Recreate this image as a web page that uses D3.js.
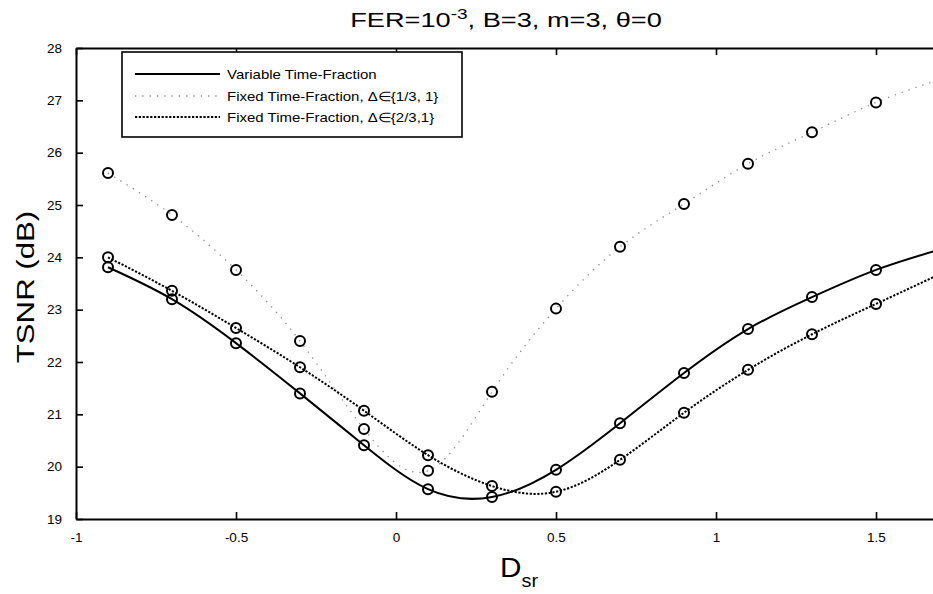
<!DOCTYPE html>
<html>
<head>
<meta charset="utf-8">
<script src="https://cdn.jsdelivr.net/npm/d3@7"></script>
<style>
  html, body { margin: 0; padding: 0; background: #fff; }
  svg { display: block; font-family: "Liberation Sans", Arial, sans-serif; }
</style>
</head>
<body>
<svg id="chart" width="933" height="594"></svg>
<script>
// ---- data ----
const dsr = [-0.9, -0.7, -0.5, -0.3, -0.1, 0.1, 0.3, 0.5, 0.7, 0.9, 1.1, 1.3, 1.5, 1.7];
const variableTF = [23.81, 23.20, 22.36, 21.40, 20.41, 19.57, 19.42, 19.94, 20.83, 21.79, 22.63, 23.24, 23.76, 24.15];
const fixed13 = [25.61, 24.81, 23.76, 22.40, 20.72, 19.92, 21.43, 23.02, 24.20, 25.02, 25.79, 26.39, 26.96, 27.40];
const fixed23 = [24.00, 23.36, 22.65, 21.90, 21.07, 20.22, 19.63, 19.52, 20.13, 21.03, 21.85, 22.53, 23.11, 23.68];
const xTicks = [-1, -0.5, 0, 0.5, 1, 1.5];
const xTickLabels = ["-1", "-0.5", "0", "0.5", "1", "1.5"];
const yTicks = [19, 20, 21, 22, 23, 24, 25, 26, 27, 28];
const legendLabels = [
  "Variable Time-Fraction",
  "Fixed Time-Fraction, \u0394\u2208{1/3, 1}",
  "Fixed Time-Fraction, \u0394\u2208{2/3,1}"
];

// ---- layout ----
const svg = d3.select("#chart");
const x = d3.scaleLinear().domain([-1, 1.7]).range([76, 940]);
const y = d3.scaleLinear().domain([19, 28]).range([519, 48]);

const series = [
  { values: variableTF, stroke: "#000", width: 2, dash: null },
  { values: fixed13, stroke: "#8a8a8a", width: 1.3, dash: "1.3,6" },
  { values: fixed23, stroke: "#000", width: 2, dash: "2.2,1.6" }
];

// curves
const line = d3.line().x(d => x(d[0])).y(d => y(d[1])).curve(d3.curveNatural);
series.forEach(s => {
  const pts = dsr.map((v, i) => [v, s.values[i]]);
  svg.append("path")
    .attr("d", line(pts))
    .attr("fill", "none")
    .attr("stroke", s.stroke)
    .attr("stroke-width", s.width)
    .attr("stroke-dasharray", s.dash);
});

// markers
series.forEach(s => {
  svg.append("g").selectAll("circle")
    .data(dsr.map((v, i) => [v, s.values[i]]))
    .join("circle")
    .attr("cx", d => x(d[0]))
    .attr("cy", d => y(d[1]))
    .attr("r", 5)
    .attr("fill", "none")
    .attr("stroke", "#000")
    .attr("stroke-width", 2);
});

// axes
const tickLen = 7;
const axB = svg.append("g").attr("transform", `translate(0,${y(19)})`)
  .call(d3.axisBottom(x).tickValues(xTicks).tickFormat((d, i) => xTickLabels[i]).tickSizeInner(-tickLen).tickSizeOuter(0).tickPadding(13));
const axT = svg.append("g").attr("transform", `translate(0,${y(28)})`)
  .call(d3.axisTop(x).tickValues(xTicks).tickFormat("").tickSizeInner(-tickLen).tickSizeOuter(0));
const axL = svg.append("g").attr("transform", `translate(${x(-1)},0)`)
  .call(d3.axisLeft(y).tickValues(yTicks).tickFormat(d3.format("d")).tickSizeInner(-tickLen).tickSizeOuter(0).tickPadding(14));
const axR = svg.append("g").attr("transform", `translate(${x(1.7)},0)`)
  .call(d3.axisRight(y).tickValues(yTicks).tickFormat("").tickSizeInner(-tickLen).tickSizeOuter(0));
[axB, axT, axL, axR].forEach(a => {
  a.select(".domain").attr("stroke", "#000").attr("stroke-width", 2);
  a.selectAll(".tick line").attr("stroke", "#000").attr("stroke-width", 1.6);
  a.selectAll(".tick text").attr("fill", "#000").style("font-size", "13.5px")
    .style("font-family", "'Liberation Sans', Arial, sans-serif");
});

// title (horizontally stretched like the scanned original)
const title = svg.append("text")
  .attr("transform", "translate(506,27) scale(1.36,1)")
  .attr("text-anchor", "middle")
  .style("font-size", "20px").attr("fill", "#000");
title.append("tspan").text("FER=10");
title.append("tspan").attr("dy", -8).style("font-size", "14px").text("-3");
title.append("tspan").attr("dy", 8).text(", B=3, m=3, \u03b8=0");

// y label
svg.append("text")
  .attr("transform", `translate(34,287) rotate(-90) scale(1.3,1)`)
  .attr("text-anchor", "middle")
  .style("font-size", "24px").attr("fill", "#000")
  .text("TSNR (dB)");

// x label
const xl = svg.append("text")
  .attr("transform", "translate(519,577) scale(1.1,1)")
  .attr("text-anchor", "middle")
  .style("font-size", "27px").attr("fill", "#000");
xl.append("tspan").text("D");
xl.append("tspan").attr("dy", 10).style("font-size", "18px").text("sr");

// legend
const lg = svg.append("g");
lg.append("rect")
  .attr("x", 122).attr("y", 52).attr("width", 340).attr("height", 85)
  .attr("fill", "#fff").attr("stroke", "#000").attr("stroke-width", 1.6);
const rowsY = [74, 96, 117];
series.forEach((s, i) => {
  lg.append("line")
    .attr("x1", 135).attr("x2", 220)
    .attr("y1", rowsY[i]).attr("y2", rowsY[i])
    .attr("stroke", s.stroke).attr("stroke-width", s.width)
    .attr("stroke-dasharray", s.dash);
  lg.append("text")
    .attr("transform", `translate(227,${rowsY[i] + 4.5}) scale(1.2,1)`)
    .style("font-size", "12.5px").attr("fill", "#000")
    .text(legendLabels[i]);
});
</script>
</body>
</html>
